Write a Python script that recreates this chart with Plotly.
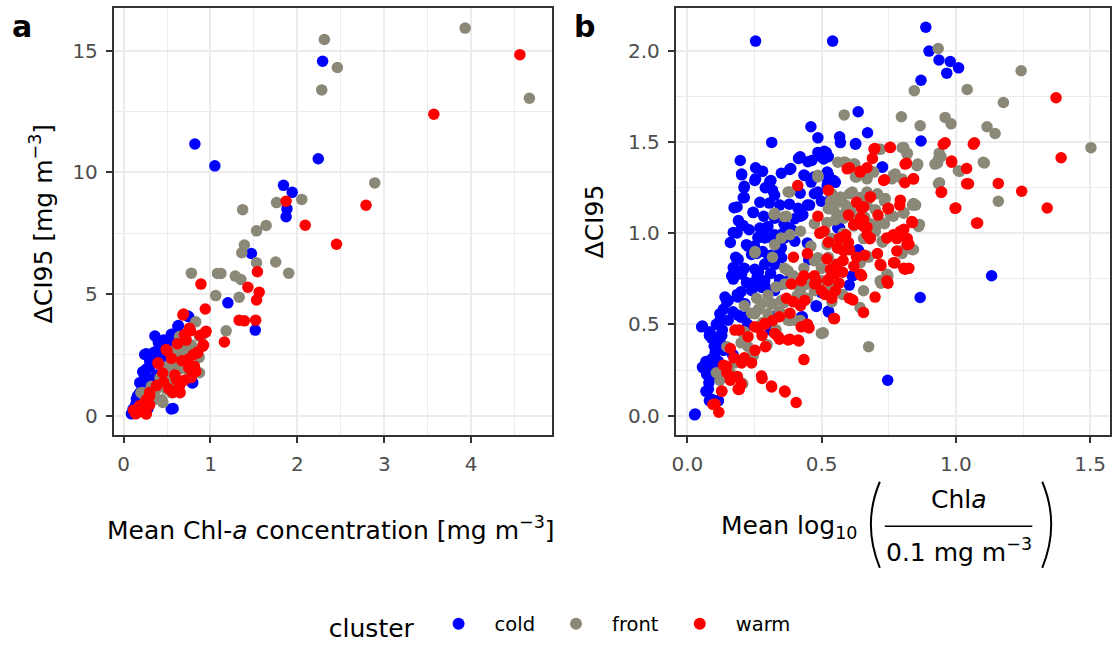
import plotly.graph_objects as go

# ---------------- data: panel a (linear) ----------------
cold_a_x = [0.82, 1.05, 2.29, 2.24, 1.84, 1.94, 1.88, 1.87, 1.47, 1.20, 1.515, 0.75, 0.36, 0.63, 0.55,
            0.79, 0.57, 0.26, 0.28, 0.22, 0.42, 0.50, 0.16, 0.09, 0.28, 0.34, 0.59, 0.38,
            0.739, 0.624, 0.548, 0.243, 0.415, 0.261, 0.3, 0.243, 0.186, 0.109, 0.147, 0.281, 0.548,
            0.796, 0.452, 0.567, 0.376, 0.49, 0.12, 0.15, 0.2, 0.25, 0.3, 0.18, 0.22, 0.33, 0.45,
            0.14, 0.2, 0.24, 0.3, 0.35, 0.4, 0.46, 0.52, 0.27, 0.18]
cold_a_y = [11.16, 10.26, 14.56, 10.55, 9.46, 9.17, 8.49, 8.17, 6.66, 4.63, 3.51, 4.06, 3.27, 3.70, 3.34,
            1.34, 0.29, 2.54, 1.96, 1.38, 2.68, 2.39, 0.80, 0.07, 0.29, 0.8, 1.81, 1.67,
            4.09, 3.66, 2.98, 2.51, 2.85, 1.9, 2.24, 1.49, 1.35, 0.27, 0.68, 0.34, 0.27,
            1.35, 1.76, 2.03, 2.44, 1.35, 0.10, 0.30, 0.60, 1.10, 1.50, 0.90, 1.80, 2.20, 2.90,
            0.45, 1.0, 1.6, 2.0, 2.6, 3.0, 3.1, 2.8, 1.25, 0.55]

front_a_x = [3.93, 2.31, 2.46, 2.28, 4.67, 2.89, 2.05, 1.76, 1.37, 1.53, 1.64, 1.39, 1.36, 1.53, 1.75,
             1.90, 0.78, 1.08, 1.12, 1.285, 1.35, 1.06, 1.33, 1.18, 0.83, 0.90, 0.87, 0.67, 0.75, 0.50,
             0.59, 0.38, 0.44, 0.30, 0.20, 0.55,
             0.644, 0.682, 0.834, 0.586, 0.51, 0.644, 0.758, 0.433, 0.49, 0.567, 0.376, 0.452, 0.223,
             0.338, 0.873, 0.873,
             0.25, 0.32, 0.42, 0.55, 0.62, 0.7, 0.78, 0.6, 0.47, 0.35]
front_a_y = [15.92, 15.45, 14.30, 13.38, 13.04, 9.56, 8.88, 8.75, 8.46, 7.59, 7.81, 7.01, 6.69, 6.28, 6.31,
             5.85, 5.85, 5.84, 5.84, 5.73, 5.59, 4.93, 4.86, 3.48, 3.85, 3.27, 2.39, 2.54, 2.10, 1.45,
             1.38, 1.09, 0.65, 0.51, 0.94, 0.94,
             3.25, 2.85, 2.57, 2.3, 2.03, 1.9, 1.76, 1.49, 1.08, 0.95, 0.68, 0.54, 0.95,
             0.95, 3.25, 1.76,
             0.75, 1.2, 1.55, 1.7, 2.1, 2.6, 2.9, 2.7, 1.25, 0.9]

warm_a_x = [4.56, 3.57, 2.79, 2.45, 2.09, 1.87, 1.54, 1.43, 1.56, 1.53, 0.89, 0.94, 1.33, 1.39, 1.52,
            1.16, 0.69, 0.94, 0.77, 0.71, 0.92, 0.85, 0.50, 0.67, 0.75, 0.83, 0.40, 0.59, 0.65, 0.38,
            0.46, 0.26, 0.30, 0.14, 0.26, 0.18, 0.115,
            0.682, 0.758, 0.701, 0.949, 0.911, 0.853, 0.739, 0.815, 0.796, 0.644, 0.567, 0.395, 0.49,
            0.3, 0.166, 0.261, 0.186, 0.605, 0.777,
            0.2, 0.3, 0.45, 0.55, 0.62, 0.72, 0.8, 0.7, 0.52, 0.88]
warm_a_y = [14.83, 12.38, 8.64, 7.04, 7.82, 8.81, 5.91, 5.27, 5.07, 4.75, 5.40, 4.38, 3.92, 3.89, 3.92,
            3.02, 4.17, 3.41, 3.48, 3.34, 2.90, 2.61, 2.66, 2.25, 1.96, 1.81, 2.13, 1.67, 0.94, 1.23,
            1.38, 0.65, 0.44, 0.07, 0.07, 0.36, 0.22,
            4.13, 3.59, 3.32, 3.46, 2.85, 2.57, 2.3, 2.03, 1.76, 1.22, 0.95, 2.17, 2.71,
            0.81, 0.13, 0.07, 0.41, 1.49, 1.56,
            0.25, 0.95, 1.75, 2.35, 2.95, 3.1, 2.5, 1.45, 1.1, 3.3]

# ---------------- data: panel b (log) ----------------
cold_b_x = [0.027, 0.254, 0.541, 0.888, 0.90, 0.937, 0.979, 0.966, 1.01, 0.87, 0.636, 0.46, 0.486, 0.567, 0.671,
            0.627, 0.314, 0.87, 0.727, 0.51, 0.525, 0.497, 0.42, 0.463, 0.197, 0.254, 0.28, 0.202, 0.254, 0.311,
            0.385, 0.434, 0.473, 0.525, 0.551, 0.212, 0.212, 0.317, 0.305, 0.185, 0.245, 0.208, 0.185, 0.284, 0.29,
            0.264, 0.317, 0.356, 0.389, 0.473, 0.447, 0.499, 0.421, 0.567, 0.447, 0.226, 0.258, 0.304, 0.343, 0.18,
            0.173, 0.212, 0.167, 0.265, 0.239, 0.29, 0.343, 0.452, 0.636, 0.616, 0.603, 0.499, 0.48, 0.525, 0.428,
            0.867, 1.133, 0.746, 0.186, 0.147, 0.134, 0.121, 0.108, 0.056, 0.082, 0.108, 0.128, 0.134, 0.167, 0.069,
            0.082, 0.056, 0.095, 0.069, 0.082, 0.115, 0.31, 0.212, 0.2, 0.225]
cold_b_y = [0.004, 2.055, 2.055, 2.131, 2.0, 1.951, 1.943, 1.879, 1.908, 1.84, 1.667, 1.585, 1.524, 1.53, 1.552,
            1.493, 1.499, 1.507, 1.364, 1.45, 1.42, 1.42, 1.42, 1.40, 1.40, 1.36, 1.34, 1.325, 1.30, 1.29,
            1.356, 1.32, 1.31, 1.32, 1.28, 1.258, 1.196, 1.237, 1.166, 1.145, 1.114, 1.043, 1.002, 1.094, 1.022,
            0.98, 0.97, 1.0, 1.02, 1.217, 1.155, 1.176, 1.094, 1.029, 0.947, 0.93, 0.89, 0.869, 0.90, 0.869,
            0.808, 0.808, 0.767, 0.787, 0.726, 0.706, 0.746, 0.855, 0.91, 0.767, 0.716, 0.675, 0.603, 0.573, 0.542,
            0.648, 0.767, 0.194, 0.665, 0.624, 0.583, 0.521, 0.501, 0.491, 0.44, 0.419, 0.44, 0.358, 0.337, 0.297,
            0.256, 0.266, 0.215, 0.133, 0.082, 0.082, 0.47, 0.46, 0.54, 0.50]
cold_b2_x = [0.202, 0.251, 0.211, 0.307, 0.381, 0.414, 0.449, 0.486, 0.517, 0.208, 0.174, 0.245, 0.325, 0.344, 0.325,
             0.437, 0.461, 0.486, 0.455, 0.412, 0.43, 0.523, 0.536, 0.202, 0.171, 0.27, 0.3, 0.288, 0.263, 0.325,
             0.381, 0.362, 0.4, 0.35, 0.22, 0.239, 0.189, 0.171, 0.165, 0.202, 0.251, 0.288, 0.325, 0.351, 0.56,
             0.171, 0.152, 0.189, 0.214, 0.251, 0.288, 0.121, 0.115, 0.152, 0.189, 0.214, 0.053, 0.084, 0.09, 0.115,
             0.128, 0.103, 0.115, 0.078, 0.059, 0.072, 0.078, 0.09, 0.115, 0.029, 0.239, 0.276, 0.325, 0.35, 0.375,
             0.313, 0.171, 0.338, 0.307, 0.424, 0.48, 0.526, 0.499,
             0.57, 0.626, 0.514, 0.508, 0.521, 0.545, 0.521, 0.725, 0.564, 0.638, 0.614]
cold_b2_y = [1.321, 1.29, 1.249, 1.285, 1.35, 1.411, 1.393, 1.444, 1.444, 1.195, 1.141, 1.115, 1.209, 1.155, 1.083,
             1.317, 1.281, 1.227, 1.155, 1.137, 1.101, 1.281, 1.209, 1.043, 1.005, 1.029, 1.038, 0.975, 0.975, 0.992,
             1.029, 0.975, 0.957, 0.92, 0.938, 0.884, 0.857, 0.812, 0.767, 0.776, 0.803, 0.83, 0.83, 0.866, 1.029,
             0.749, 0.632, 0.65, 0.613, 0.722, 0.74, 0.559, 0.505, 0.523, 0.551, 0.541, 0.487, 0.46, 0.424, 0.433,
             0.388, 0.343, 0.298, 0.289, 0.262, 0.226, 0.145, 0.09, 0.081, 0.009, 0.686, 0.704, 0.686, 0.722, 0.74,
             0.469, 0.33, 0.559, 0.541, 0.541, 0.599, 0.568, 0.677,
             1.498, 1.489, 1.444, 1.408, 1.336, 1.29, 1.263, 1.363, 1.029, 0.903, 0.767]
cold_b3_x = [0.16, 0.19, 0.23, 0.25, 0.28, 0.31, 0.33, 0.36, 0.40, 0.38, 0.42, 0.27, 0.29, 0.35, 0.22,
             0.26, 0.31, 0.20, 0.14, 0.17, 0.13, 0.10, 0.09, 0.11, 0.08]
cold_b3_y = [0.95, 1.07, 1.02, 0.93, 0.90, 0.88, 0.95, 1.05, 1.08, 1.16, 1.22, 1.17, 1.25, 1.33, 0.73,
             0.76, 0.78, 0.68, 0.65, 0.57, 0.47, 0.38, 0.31, 0.25, 0.18]

front_b_x = [0.934, 1.243, 1.042, 0.845, 1.177, 0.584, 0.797, 0.867, 0.96, 0.982, 1.116, 1.146, 1.503, 0.80, 0.819,
             0.858, 0.938, 0.945, 0.932, 1.106, 1.014, 0.939, 1.158, 0.588, 0.623, 0.63, 0.682, 0.72, 0.767, 0.80,
             0.486, 0.382, 0.538, 0.565, 0.604, 0.643, 0.669, 0.708, 0.734, 0.838, 0.85, 0.525, 0.59, 0.616, 0.551,
             0.767, 0.806, 0.734, 0.701, 0.864, 0.323, 0.369, 0.382, 0.421, 0.473, 0.512, 0.538, 0.578, 0.682, 0.656,
             0.727, 0.838, 0.80, 0.252, 0.317, 0.362, 0.395, 0.434, 0.473, 0.499, 0.525, 0.675, 0.747, 0.721, 0.551,
             0.578, 0.538, 0.382, 0.421, 0.447, 0.473, 0.33, 0.643, 0.656, 0.258, 0.265, 0.212, 0.239, 0.317, 0.343,
             0.382, 0.421, 0.506, 0.675, 0.212, 0.2, 0.245, 0.297, 0.18, 0.206, 0.16, 0.108, 0.121, 0.147, 0.226]
front_b_y = [2.014, 1.892, 1.789, 1.783, 1.718, 1.65, 1.64, 1.591, 1.636, 1.601, 1.585, 1.548, 1.47, 1.47, 1.44,
             1.38, 1.44, 1.42, 1.386, 1.386, 1.34, 1.278, 1.176, 1.39, 1.38, 1.309, 1.34, 1.462, 1.319, 1.298,
             1.319, 1.227, 1.217, 1.176, 1.217, 1.196, 1.155, 1.217, 1.176, 1.155, 1.155, 1.135, 1.114, 1.094, 1.074,
             1.094, 1.114, 1.053, 1.033, 1.049, 1.104, 1.094, 0.992, 1.012, 1.053, 1.012, 0.971, 0.951, 1.053, 0.971,
             0.951, 0.91, 0.89, 0.90, 0.869, 0.808, 0.767, 0.808, 0.849, 0.808, 0.869, 0.869, 0.767, 0.726, 0.706,
             0.665, 0.624, 0.726, 0.685, 0.644, 0.685, 0.706, 0.593, 0.685, 0.644, 0.583, 0.603, 0.562, 0.614, 0.573,
             0.521, 0.521, 0.454, 0.378, 0.46, 0.399, 0.327, 0.389, 0.307, 0.174, 0.235, 0.235, 0.194, 0.378, 0.378]
front_b2_x = [0.325, 0.362, 0.375, 0.486, 0.56, 0.251, 0.325, 0.35, 0.375, 0.362, 0.486, 0.548, 0.499, 0.536, 0.56,
              0.548, 0.573,
              0.202, 0.251, 0.276, 0.3, 0.35, 0.375, 0.4, 0.499, 0.239, 0.202, 0.177, 0.313, 0.4, 0.449, 0.536,
              0.806, 0.818, 0.712, 0.582, 0.619, 0.626, 0.669, 0.694, 0.762, 0.774, 0.855, 0.935, 0.922, 1.009,
              1.102, 0.935, 0.614, 0.57, 0.589, 0.533, 0.545, 0.607, 0.582, 0.669, 0.737, 0.756, 0.806, 0.842,
              0.861, 0.718, 0.7, 0.725, 0.793, 0.842, 0.669, 0.644, 0.718, 0.743, 0.521, 0.558, 0.545,
              0.58, 0.62, 0.66, 0.70, 0.52, 0.46, 0.44, 0.41, 0.36, 0.30, 0.28, 0.33]
front_b2_y = [1.11, 1.092, 1.227, 1.309, 1.39, 0.893, 0.938, 0.975, 0.794, 0.722, 0.866, 0.83, 0.74, 0.776, 1.101,
              1.155, 1.191,
              0.46, 0.559, 0.613, 0.559, 0.632, 0.523, 0.523, 0.451, 0.325, 0.18, 0.289, 0.613, 0.722, 0.749, 0.704,
              1.471, 1.435, 1.462, 1.39, 1.38, 1.309, 1.299, 1.336, 1.299, 1.326, 1.371, 1.408, 1.38, 1.344,
              1.39, 1.272, 1.227, 1.2, 1.155, 1.173, 1.128, 1.128, 1.083, 1.227, 1.191, 1.101, 1.11, 1.164,
              1.038, 1.065, 1.011, 0.957, 0.903, 0.911, 0.875, 0.839, 0.74, 0.776, 0.938, 0.92, 0.758,
              1.00, 1.04, 1.09, 1.13, 1.06, 0.93, 0.72, 0.66, 0.62, 0.66, 0.51, 0.47]

warm_b_x = [1.373, 1.392, 1.34, 1.245, 1.158, 1.081, 1.047, 1.04, 1.0, 0.984, 0.945, 0.96, 1.069, 0.698, 0.755,
            0.689, 0.669, 0.643, 0.604, 0.816, 0.842, 0.81, 0.734, 0.411, 0.525, 0.682, 0.791, 0.747, 0.838, 0.649,
            0.656, 0.63, 0.669, 0.806, 0.767, 0.78, 0.825, 0.819, 0.493, 0.525, 0.565, 0.59, 0.486, 0.395, 0.447,
            0.604, 0.63, 0.708, 0.721, 0.773, 0.806, 0.825, 0.649, 0.747, 0.434, 0.473, 0.525, 0.565, 0.578, 0.551,
            0.512, 0.538, 0.603, 0.616, 0.699, 0.656, 0.369, 0.395, 0.421, 0.343, 0.382, 0.545, 0.453, 0.447, 0.317,
            0.291, 0.265, 0.343, 0.382, 0.415, 0.278, 0.291, 0.252, 0.212, 0.193, 0.16, 0.173, 0.434, 0.278, 0.314,
            0.364, 0.405, 0.134, 0.147, 0.16, 0.128, 0.193, 0.095, 0.117, 0.186, 0.2]
warm_b_y = [1.744, 1.415, 1.139, 1.231, 1.274, 1.057, 1.272, 1.356, 1.139, 1.397, 1.225, 1.497, 1.497, 1.466, 1.472,
            1.411, 1.36, 1.34, 1.36, 1.384, 1.299, 1.278, 1.294, 1.262, 1.237, 1.2, 1.155, 1.135, 1.059, 1.135,
            1.074, 1.053, 1.033, 1.022, 0.992, 0.971, 0.94, 0.971, 1.0, 0.951, 0.971, 0.992, 1.094, 0.869, 0.889,
            0.91, 0.869, 0.889, 0.824, 0.838, 0.808, 0.808, 0.767, 0.726, 0.767, 0.767, 0.746, 0.726, 0.787, 0.685,
            0.665, 0.644, 0.644, 0.634, 0.65, 0.566, 0.644, 0.624, 0.603, 0.542, 0.562, 0.532, 0.481, 0.501, 0.521,
            0.501, 0.481, 0.419, 0.419, 0.409, 0.44, 0.378, 0.358, 0.317, 0.47, 0.368, 0.317, 0.307, 0.204, 0.157,
            0.129, 0.072, 0.276, 0.235, 0.194, 0.133, 0.143, 0.061, 0.018, 0.215, 0.174]
warm_b2_x = [0.413, 0.276, 0.313, 0.362, 0.103, 0.128, 0.189, 0.146, 0.158, 0.202, 0.239, 0.177, 0.226, 0.251, 0.288,
             0.325, 0.338, 0.375, 0.424, 0.499, 0.548, 0.437, 0.387, 0.424, 0.474, 0.523,
             0.695, 0.756, 0.811, 0.842, 0.731, 0.681, 0.657, 0.644, 0.657, 0.669, 0.595, 0.644, 0.793, 0.749,
             0.836, 0.793, 0.818, 0.743, 0.78, 0.718, 0.768, 0.811, 0.644, 0.743, 0.953, 0.984, 1.065, 1.04,
             0.947, 0.997, 1.077, 0.533, 0.558, 0.508, 0.57, 0.582, 0.619, 0.681,
             0.55, 0.58, 0.62, 0.66, 0.60, 0.56, 0.52, 0.48, 0.68, 0.71, 0.63, 0.60]
warm_b2_y = [0.415, 0.217, 0.162, 0.135, 0.063, 0.135, 0.145, 0.271, 0.217, 0.289, 0.289, 0.469, 0.433, 0.487, 0.505,
             0.451, 0.433, 0.415, 0.487, 0.686, 0.532, 0.632, 0.722, 0.74, 0.722, 0.74,
             1.462, 1.471, 1.38, 1.299, 1.29, 1.2, 1.146, 1.083, 1.038, 0.992, 1.354, 1.336, 1.182, 1.137,
             1.065, 1.011, 0.938, 0.975, 0.903, 0.83, 0.839, 0.803, 0.776, 0.74, 1.489, 1.39, 1.489, 1.272,
             1.227, 1.137, 1.056, 0.803, 0.83, 1.011, 0.975, 0.903, 1.047, 0.975,
             0.78, 0.85, 0.82, 0.88, 0.95, 0.92, 0.86, 0.74, 0.97, 1.10, 1.17, 1.10]

clusters = ["cold", "front", "warm"]
colors = {"cold": "#0000FF", "front": "#8B8878", "warm": "#FF0000"}
panel_a = {"cold": (cold_a_x, cold_a_y), "front": (front_a_x, front_a_y), "warm": (warm_a_x, warm_a_y)}
panel_b = {"cold": (cold_b_x + cold_b2_x + cold_b3_x, cold_b_y + cold_b2_y + cold_b3_y),
           "front": (front_b_x + front_b2_x, front_b_y + front_b2_y),
           "warm": (warm_b_x + warm_b2_x, warm_b_y + warm_b2_y)}

W, H = 1112, 648
FONT = "DejaVu Sans, Liberation Sans, Arial, sans-serif"


def px(x):
    return x / W


def py(y):
    return 1 - y / H


fig = go.Figure()
MS = 11.5
for c in clusters:
    xa, ya = panel_a[c]
    fig.add_trace(go.Scatter(x=xa, y=ya, mode="markers", name=c, legendgroup=c,
                             marker=dict(color=colors[c], size=MS, line=dict(width=0)),
                             xaxis="x", yaxis="y", showlegend=True))
for c in clusters:
    xb, yb = panel_b[c]
    fig.add_trace(go.Scatter(x=xb, y=yb, mode="markers", name=c, legendgroup=c,
                             marker=dict(color=colors[c], size=MS, line=dict(width=0)),
                             xaxis="x2", yaxis="y2", showlegend=False))

common = dict(showline=True, mirror=True, linecolor="#333333", linewidth=1.5,
              ticks="outside", ticklen=6, tickwidth=1.5, tickcolor="#333333",
              tickfont=dict(family=FONT, size=20, color="#4D4D4D"),
              showgrid=True, gridcolor="#EBEBEB", gridwidth=2, zeroline=False,
              ticklabelstandoff=4)

ytop, ybot = 8, 440
fig.update_layout(
    width=W, height=H, margin=dict(l=0, r=0, t=0, b=0),
    paper_bgcolor="white", plot_bgcolor="white",
    font=dict(family=FONT, color="black"),
    xaxis=dict(domain=[px(110), px(550)], range=[-0.115, 4.93], tick0=0, dtick=1, anchor="y",
               minor=dict(dtick=0.5, tick0=0, showgrid=True, gridcolor="#EBEBEB", gridwidth=1, ticks=""),
               **common),
    yaxis=dict(domain=[py(ybot), py(ytop)], range=[-0.81, 16.75], tick0=0, dtick=5, anchor="x",
               minor=dict(dtick=2.5, tick0=0, showgrid=True, gridcolor="#EBEBEB", gridwidth=1, ticks=""),
               **common),
    xaxis2=dict(domain=[px(674), px(1110)], range=[-0.044, 1.574], tick0=0, dtick=0.5, anchor="y2",
                tickformat=".1f",
                minor=dict(dtick=0.25, tick0=0, showgrid=True, gridcolor="#EBEBEB", gridwidth=1, ticks=""),
                **common),
    yaxis2=dict(domain=[py(ybot), py(ytop)], range=[-0.108, 2.237], tick0=0, dtick=0.5, anchor="x2",
                tickformat=".1f",
                minor=dict(dtick=0.25, tick0=0, showgrid=True, gridcolor="#EBEBEB", gridwidth=1, ticks=""),
                **common),
    legend=dict(orientation="h", x=0.503, xanchor="center", y=py(633), yanchor="middle",
                title=dict(text="cluster", font=dict(family=FONT, size=25, color="black"), side="left"),
                font=dict(family=FONT, size=19.5, color="black"), itemsizing="constant",
                itemwidth=62, bgcolor="rgba(0,0,0,0)"),
)

ann = []
tf = dict(family=FONT, size=25, color="black")


def add_text(text, x, y, font=tf, xanchor="center", angle=0):
    ann.append(dict(text=text, x=px(x), y=py(y), xref="paper", yref="paper", showarrow=False,
                    xanchor=xanchor, yanchor="middle", textangle=angle, font=font))


bold = dict(family=FONT, size=30, color="black")
add_text("<b>a</b>", 18, 27, bold)
add_text("<b>b</b>", 583, 27, bold)
add_text("Mean Chl-<i>a</i> concentration [mg m<sup>\u22123</sup>]", 328, 534)
add_text("\u0394CI95 [mg m<sup>\u22123</sup>]", 38, 226, angle=-90)
add_text("\u0394CI95", 593, 224, angle=-90)
add_text("Mean log<sub>10</sub>", 858, 533, xanchor="right")
add_text("Chl<i>a</i>", 958, 505)
add_text("0.1 mg m<sup>\u22123</sup>", 958, 557)
fig.update_layout(annotations=ann)

shapes = [
    dict(type="line", xref="paper", yref="paper", x0=px(884), x1=px(1032), y0=py(532), y1=py(532),
         line=dict(color="black", width=1.5)),
    dict(type="path", xref="paper", yref="paper",
         path=f"M {px(879)},{py(487)} Q {px(861)},{py(530)} {px(879)},{py(574)}",
         line=dict(color="black", width=2)),
    dict(type="path", xref="paper", yref="paper",
         path=f"M {px(1042)},{py(487)} Q {px(1060)},{py(530)} {px(1042)},{py(574)}",
         line=dict(color="black", width=2)),
]
fig.update_layout(shapes=shapes)

fig.write_html("out.html")
